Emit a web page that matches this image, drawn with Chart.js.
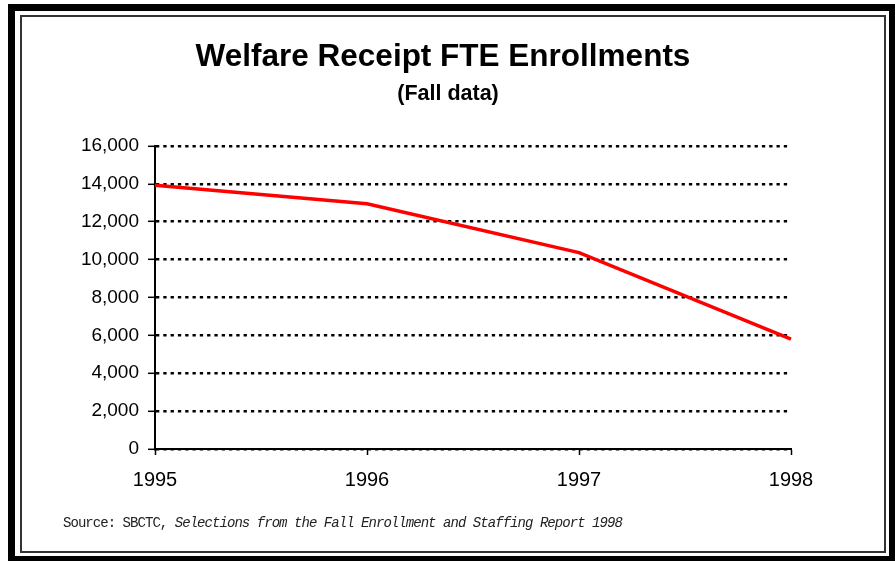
<!DOCTYPE html>
<html>
<head>
<meta charset="utf-8">
<script src="https://cdn.jsdelivr.net/npm/chart.js@4.4.1/dist/chart.umd.min.js"></script>
<style>
    html, body { margin: 0; padding: 0; background: #fff; overflow: hidden; }
    #wrap { position: relative; width: 895px; height: 561px; }
    #chart { position: absolute; left: 0; top: 0; }
    .frame-outer { position: absolute; left: 8px; top: 4px; width: 888px; height: 559px; box-sizing: border-box; border: 7px solid #000; pointer-events: none; }
    .frame-inner { position: absolute; left: 20px; top: 15px; width: 866px; height: 538px; box-sizing: border-box; border: 2px solid #333; pointer-events: none; }
</style>
</head>
<body>
<div id="wrap">
    <canvas id="chart" width="895" height="561"></canvas>
    <div class="frame-outer"></div>
    <div class="frame-inner"></div>
</div>
<script>
// --- datos ---
const years = ['1995', '1996', '1997', '1998'];
const fteEnrollments = [13930, 12950, 10370, 5800];
const yMin = 0;
const yMax = 16000;
const yStep = 2000;

const chartTitle = 'Welfare Receipt FTE Enrollments';
const chartSubtitle = '(Fall data)';
const sourcePrefix = 'Source: SBCTC, ';
const sourceItalic = 'Selections from the Fall Enrollment and Staffing Report 1998';

const FONT = '"Liberation Sans", Arial, sans-serif';
const MONO = '"Liberation Mono", "Courier New", monospace';

// titulos y fuente dibujados sobre el canvas
const textPlugin = {
    id: 'textPlugin',
    afterDraw(chart) {
        const ctx = chart.ctx;
        ctx.save();
        ctx.fillStyle = '#000';
        ctx.textAlign = 'center';
        ctx.textBaseline = 'alphabetic';
        ctx.font = 'bold 31.5px ' + FONT;
        ctx.fillText(chartTitle, 443, 66);
        ctx.font = 'bold 21.5px ' + FONT;
        ctx.fillText(chartSubtitle, 448, 100);

        ctx.textAlign = 'left';
        ctx.fillStyle = '#222';
        if ('letterSpacing' in ctx) ctx.letterSpacing = '-0.95px';
        ctx.font = '14px ' + MONO;
        ctx.fillText(sourcePrefix, 63, 527);
        const w = ctx.measureText(sourcePrefix).width;
        ctx.font = 'italic 14px ' + MONO;
        ctx.fillText(sourceItalic, 63 + w, 527);
        ctx.restore();
    }
};

new Chart(document.getElementById('chart'), {
    type: 'line',
    data: {
        labels: years,
        datasets: [{
            data: fteEnrollments,
            borderColor: '#ff0000',
            borderWidth: 3.5,
            pointRadius: 0,
            tension: 0,
            fill: false
        }]
    },
    options: {
        responsive: false,
        animation: false,
        layout: { padding: { top: 146, left: 0, right: 104, bottom: 62 } },
        plugins: {
            legend: { display: false },
            title: { display: false },
            tooltip: { enabled: false }
        },
        scales: {
            x: {
                offset: false,
                afterFit: scale => { scale.height = 50; scale.paddingLeft = 0; scale.paddingRight = 0; },
                grid: { drawOnChartArea: false, drawTicks: true, tickLength: 6, tickColor: '#000', tickWidth: 1.5, color: '#000' },
                border: { display: true, color: '#000', width: 2 },
                ticks: { color: '#000', font: { family: FONT, size: 20 }, padding: 13, maxRotation: 0 }
            },
            y: {
                min: yMin,
                max: yMax,
                afterFit: scale => { scale.width = 155; },
                grid: { color: '#000', lineWidth: 2.6, tickLength: 7, tickColor: '#000', tickWidth: 1.5, tickBorderDash: [] },
                border: { display: true, color: '#000', width: 2, dash: [3.3, 4] },
                ticks: {
                    stepSize: yStep,
                    color: '#000',
                    padding: 9,
                    font: { family: FONT, size: 19 },
                    callback: v => v.toLocaleString('en-US')
                }
            }
        }
    },
    plugins: [textPlugin]
});
</script>
</body>
</html>
